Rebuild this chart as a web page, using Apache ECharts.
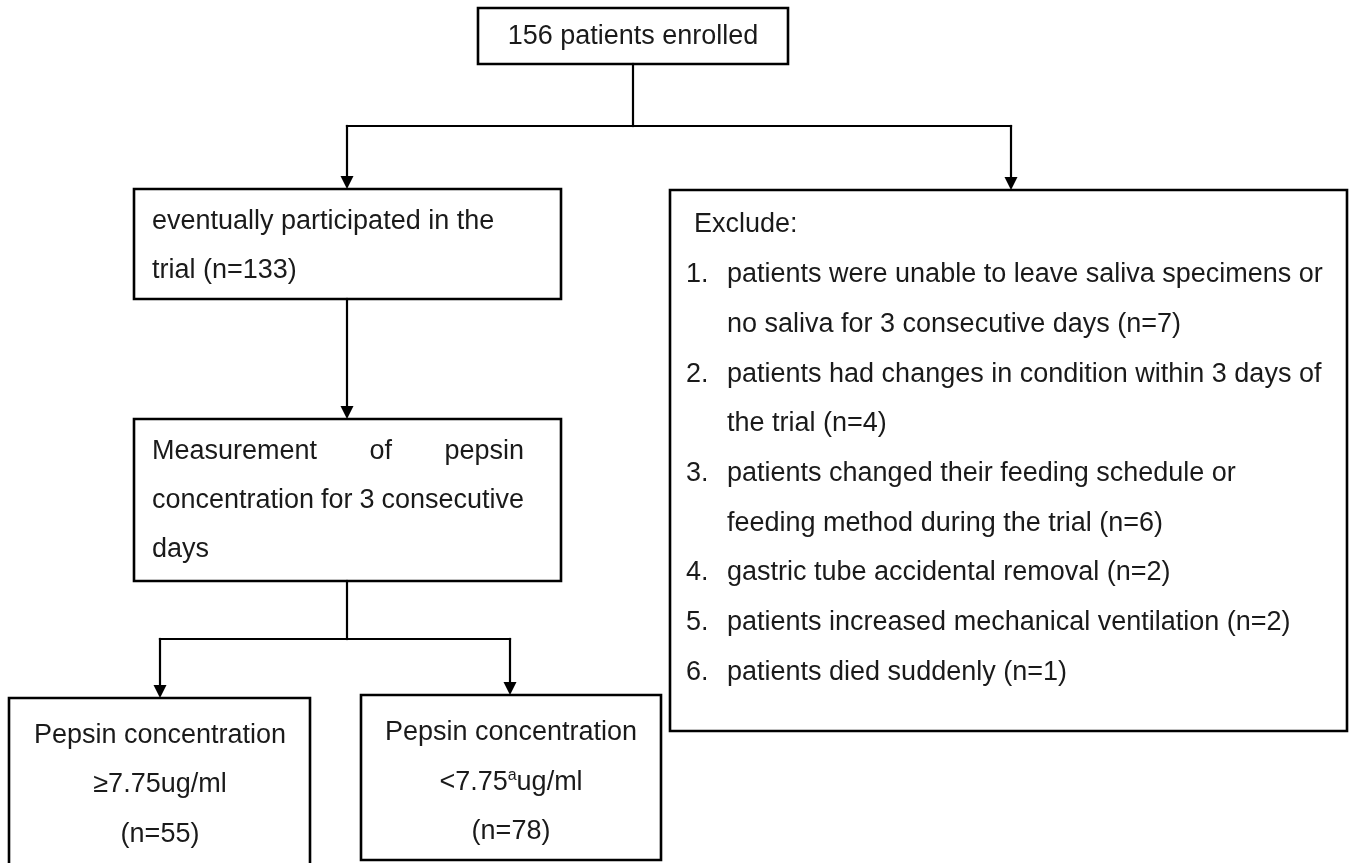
<!DOCTYPE html>
<html>
<head>
<meta charset="utf-8">
<script src="https://cdn.jsdelivr.net/npm/echarts@6/dist/echarts.min.js"></script>
<style>html,body{margin:0;padding:0;background:#fff}#chart{width:1350px;height:863px}</style>
</head>
<body>
<div id="chart"></div>
<script>
// ---------- content (texts) ----------
const enrolledLines = ['156 patients enrolled'];
const participatedLines = ['eventually participated in the', 'trial (n=133)'];
const measurementLines = ['Measurement of pepsin', 'concentration for 3 consecutive', 'days'];
const excludeHeader = 'Exclude:';
const excludeNumbers = ['1.', '2.', '3.', '4.', '5.', '6.'];
const excludeReasons = [
  ['patients were unable to leave saliva specimens or', 'no saliva for 3 consecutive days (n=7)'],
  ['patients had changes in condition within 3 days of', 'the trial (n=4)'],
  ['patients changed their feeding schedule or', 'feeding method during the trial (n=6)'],
  ['gastric tube accidental removal (n=2)'],
  ['patients increased mechanical ventilation (n=2)'],
  ['patients died suddenly (n=1)']
];
const highGroupLines = ['Pepsin concentration', '≥7.75ug/ml', '(n=55)'];
const lowGroupLines = ['Pepsin concentration', '{n|<7.75}{sup|a}{n|ug/ml}', '(n=78)'];

// ---------- layout (chart units = pixels on hidden axes) ----------
const FONT_SIZE = 27;
const FONT_FAMILY = '"Liberation Sans", Arial, Helvetica, sans-serif';
const TEXT_COLOR = '#1a1a1a';
const LINE_COLOR = '#000';

const layout = {
  enrolled:     { rect: [478, 8, 788, 64],   align: 'center', x: 633, ys: [37] },
  participated: { rect: [134, 189, 561, 299], align: 'left', x: 152, ys: [222, 271] },
  measurement:  { rect: [134, 419, 561, 581], align: 'justify', x: 152, right: 524, ys: [452, 501, 550] },
  exclude:      { rect: [670, 190, 1347, 731], headerX: 694, numX: 686, bodyX: 727, y0: 225, step: 49.7 },
  high:         { rect: [9, 698, 310, 875],   align: 'center', x: 160, ys: [736, 785, 835] },
  low:          { rect: [361, 695, 661, 860], align: 'center', x: 511, ys: [733, 783, 832] }
};

const connectors = [
  { pts: [[633, 64], [633, 126]] },
  { pts: [[347, 126], [1011, 126]] },
  { pts: [[347, 126], [347, 189]], arrow: true },
  { pts: [[1011, 126], [1011, 190]], arrow: true },
  { pts: [[347, 299], [347, 419]], arrow: true },
  { pts: [[347, 581], [347, 639]] },
  { pts: [[160, 639], [510, 639]] },
  { pts: [[160, 639], [160, 698]], arrow: true },
  { pts: [[510, 639], [510, 695]], arrow: true }
];

// ---------- build text items per box ----------
const measureCtx = document.createElement('canvas').getContext('2d');
measureCtx.font = FONT_SIZE + 'px ' + FONT_FAMILY;
function textWidth(t) { return measureCtx.measureText(t).width; }

function simpleBox(key, lines) {
  const L = layout[key];
  const items = [];
  lines.forEach((t, i) => {
    if (L.align === 'justify' && i < lines.length - 1) {
      const words = t.split(' ');
      const widths = words.map(textWidth);
      const total = widths.reduce((a, b) => a + b, 0);
      const gap = (L.right - L.x - total) / (words.length - 1);
      let cx = L.x;
      words.forEach((w, k) => {
        items.push({ text: w, x: cx, y: L.ys[i], align: 'left' });
        cx += widths[k] + gap;
      });
    } else {
      items.push({ text: t, x: L.x, y: L.ys[i], align: L.align === 'center' ? 'center' : 'left' });
    }
  });
  return { rect: L.rect, items };
}

function excludeBox() {
  const L = layout.exclude;
  const items = [{ text: excludeHeader, x: L.headerX, y: L.y0, align: 'left' }];
  let row = 1;
  excludeReasons.forEach((lines, i) => {
    items.push({ text: excludeNumbers[i], x: L.numX, y: L.y0 + row * L.step, align: 'left' });
    lines.forEach(t => {
      items.push({ text: t, x: L.bodyX, y: L.y0 + row * L.step, align: 'left' });
      row++;
    });
  });
  return { rect: L.rect, items };
}

const boxes = [
  simpleBox('enrolled', enrolledLines),
  simpleBox('participated', participatedLines),
  simpleBox('measurement', measurementLines),
  excludeBox(),
  simpleBox('high', highGroupLines),
  simpleBox('low', lowGroupLines)
];

const richStyles = {
  n: { fontSize: FONT_SIZE, fontFamily: FONT_FAMILY, fill: TEXT_COLOR, lineHeight: 32, verticalAlign: 'middle', textVerticalAlign: 'middle' },
  sup: { fontSize: 16, fontFamily: FONT_FAMILY, fill: TEXT_COLOR, lineHeight: 32, verticalAlign: 'top', textVerticalAlign: 'top', padding: [1, 0, 0, 0] }
};

function renderBox(params, api) {
  const b = boxes[params.dataIndex];
  const p0 = api.coord([b.rect[0], b.rect[1]]);
  const p1 = api.coord([b.rect[2], b.rect[3]]);
  const children = [{
    type: 'rect',
    shape: { x: p0[0], y: p0[1], width: p1[0] - p0[0], height: p1[1] - p0[1] },
    style: { fill: '#fff', stroke: LINE_COLOR, lineWidth: 2.6 }
  }];
  b.items.forEach(it => {
    const p = api.coord([it.x, it.y]);
    const style = {
      text: it.text,
      x: p[0], y: p[1],
      fontSize: FONT_SIZE, fontFamily: FONT_FAMILY,
      fill: TEXT_COLOR,
      align: it.align, textAlign: it.align,
      verticalAlign: 'middle', textVerticalAlign: 'middle'
    };
    if (it.text.indexOf('{') >= 0) style.rich = richStyles;
    children.push({ type: 'text', style });
  });
  return { type: 'group', children };
}

function renderConnector(params, api) {
  const c = connectors[params.dataIndex];
  const pts = c.pts.map(p => api.coord(p));
  const children = [];
  const ARROW_LEN = 13, ARROW_HALF = 6.5;
  let linePts = pts.slice();
  if (c.arrow) {
    const tip = pts[pts.length - 1], prev = pts[pts.length - 2];
    const dx = tip[0] - prev[0], dy = tip[1] - prev[1];
    const len = Math.sqrt(dx * dx + dy * dy);
    const ux = dx / len, uy = dy / len;
    const base = [tip[0] - ux * ARROW_LEN, tip[1] - uy * ARROW_LEN];
    linePts[linePts.length - 1] = base;
    children.push({
      type: 'polygon',
      shape: { points: [tip, [base[0] - uy * ARROW_HALF, base[1] + ux * ARROW_HALF], [base[0] + uy * ARROW_HALF, base[1] - ux * ARROW_HALF]] },
      style: { fill: LINE_COLOR }
    });
  }
  children.unshift({
    type: 'polyline',
    shape: { points: linePts },
    style: { stroke: LINE_COLOR, lineWidth: 2.2, lineCap: 'square', fill: null }
  });
  return { type: 'group', children };
}

const chart = echarts.init(document.getElementById('chart'), null, { renderer: 'canvas' });
chart.setOption({
  backgroundColor: '#fff',
  animation: false,
  grid: { left: 0, right: 0, top: 0, bottom: 0 },
  xAxis: { type: 'value', min: 0, max: 1350, show: false },
  yAxis: { type: 'value', min: 0, max: 863, inverse: true, show: false },
  series: [
    {
      type: 'custom', coordinateSystem: 'cartesian2d', z: 2, silent: true,
      renderItem: renderBox,
      data: boxes.map((b, i) => [i, 0])
    },
    {
      type: 'custom', coordinateSystem: 'cartesian2d', z: 3, silent: true,
      renderItem: renderConnector,
      data: connectors.map((c, i) => [i, 0])
    }
  ]
});
</script>
</body>
</html>
